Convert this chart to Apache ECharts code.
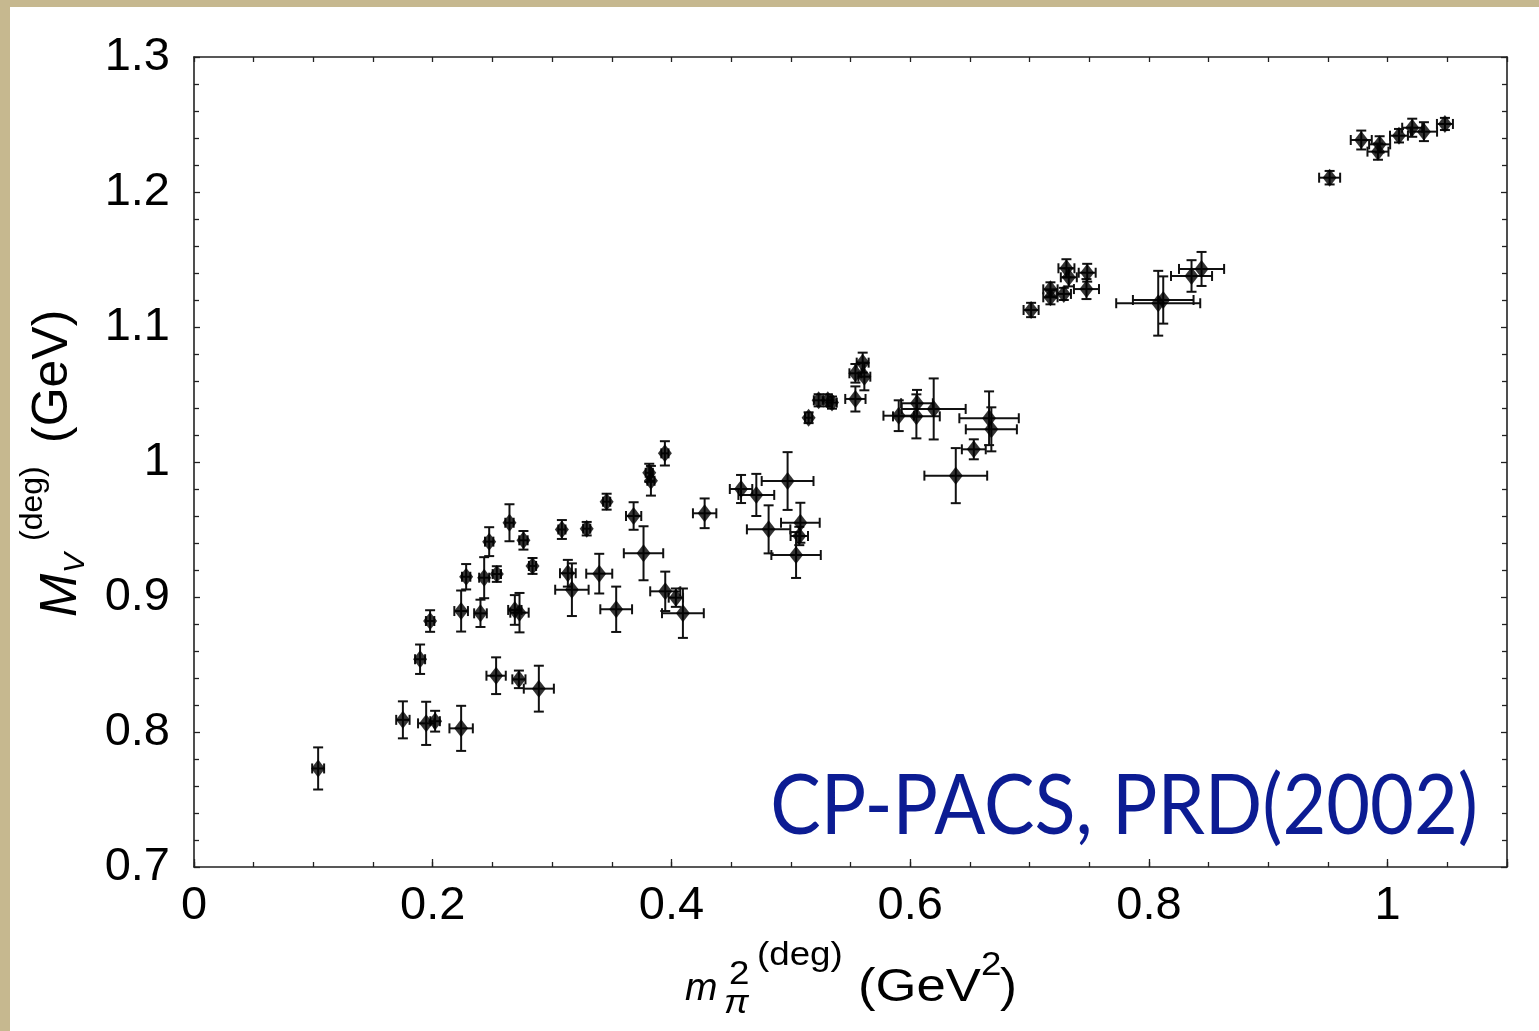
<!DOCTYPE html>
<html><head><meta charset="utf-8">
<script src="https://cdn.jsdelivr.net/npm/echarts@6/dist/echarts.min.js"></script>
<style>html,body{margin:0;padding:0;background:#c6b88f;}#c{width:1539px;height:1031px;}</style>
</head><body><div id="c"></div>
<script>
// m_pi^2 (GeV^2)
const mPi2 = [0.104,0.175,0.1945,0.202,0.2238,0.1894,0.1978,0.2238,0.228,0.24,
  0.2431,0.2473,0.2537,0.2643,0.276,0.2836,0.3082,0.329,0.2688,0.2727,
  0.2531,0.2722,0.2889,0.3132,0.3166,0.3395,0.3537,0.3766,0.3948,0.4037,
  0.4096,0.3457,0.3683,0.3814,0.3828,0.3945,0.4278,0.4583,0.4711,0.4973,
  0.4814,0.508,0.5071,0.5044,0.5149,0.5233,0.531,0.5345,0.5541,0.5541,
  0.5602,0.5616,0.5904,0.6057,0.6052,0.6197,0.6533,0.6382,0.6661,0.668,
  0.7013,0.7175,0.7175,0.7287,0.7309,0.7329,0.7483,0.7477,0.8078,0.812,
  0.8357,0.8441,0.9514,0.9779,0.9933,0.9919,1.0095,1.0206,1.0304,1.048];
// M_V (GeV)
const mV = [0.773,0.809,0.8064,0.808,0.8027,0.8539,0.8822,0.8896,0.915,0.8879,
  0.9143,0.941,0.917,0.955,0.942,0.923,0.950,0.9506,0.8904,0.8884,
  0.8417,0.839,0.8321,0.9176,0.9054,0.9173,0.8909,0.9324,0.9042,0.8995,
  0.888,0.9706,0.96,0.992,0.9861,1.0064,0.962,0.98,0.9756,0.9859,
  0.9501,0.955,0.9452,0.9311,1.0328,1.0457,1.0457,1.044,1.0467,1.0657,
  1.0736,1.0632,1.0343,1.0435,1.0338,1.0393,1.0094,0.9899,1.0324,1.0242,
  1.1126,1.1279,1.122,1.1245,1.1435,1.1368,1.1402,1.1281,1.1176,1.12,
  1.1378,1.143,1.2106,1.2385,1.2353,1.2299,1.2417,1.2476,1.2447,1.2504];
// horizontal error (GeV^2)
const errX = [0.005,0.0056,0.0068,0.004,0.0098,0.0042,0.0035,0.0057,0.0035,0.0053,
  0.0042,0.0035,0.0035,0.0035,0.0035,0.003,0.003,0.003,0.0056,0.0077,
  0.0081,0.0055,0.0126,0.0066,0.014,0.0109,0.0133,0.0165,0.0126,0.006,
  0.0175,0.003,0.0064,0.003,0.003,0.003,0.0098,0.0094,0.015,0.0217,
  0.0182,0.0162,0.0073,0.0207,0.003,0.004,0.004,0.004,0.0085,0.005,
  0.005,0.005,0.0128,0.0133,0.0196,0.0268,0.01,0.0263,0.0249,0.0214,
  0.0063,0.006,0.006,0.006,0.0067,0.0067,0.0071,0.0105,0.0352,0.0254,
  0.0172,0.0189,0.0088,0.0088,0.0088,0.0088,0.0075,0.0084,0.011,0.0067];
// vertical error (GeV)
const errY = [0.0156,0.0137,0.016,0.0077,0.0167,0.0109,0.008,0.0152,0.0094,0.0101,
  0.0152,0.0107,0.0058,0.0137,0.0069,0.0059,0.007,0.005,0.011,0.0146,
  0.0136,0.0065,0.017,0.0099,0.0195,0.0147,0.0168,0.02,0.0146,0.0068,
  0.0183,0.0059,0.0102,0.0067,0.011,0.009,0.011,0.0104,0.0156,0.0214,
  0.0178,0.0148,0.0068,0.017,0.004,0.0045,0.0045,0.0045,0.0093,0.0069,
  0.0074,0.0101,0.0114,0.0099,0.0163,0.0226,0.0074,0.0204,0.0199,0.0163,
  0.0053,0.0052,0.0052,0.0045,0.0067,0.0067,0.0066,0.0074,0.024,0.0175,
  0.0117,0.0126,0.005,0.007,0.006,0.006,0.005,0.0067,0.007,0.0045];
const xTickLabels = [0, 0.2, 0.4, 0.6, 0.8, 1];
const yTickLabels = [0.7, 0.8, 0.9, 1, 1.1, 1.2, 1.3];

const data = mPi2.map((x, i) => [x, mV[i], errX[i], errY[i]]);
const chart = echarts.init(document.getElementById('c'));
const lineCol = '#222';
const labelFont = {fontFamily: 'Liberation Sans', fontSize: 47, color: '#000'};

function renderErr(params, api) {
  const x = api.value(0), y = api.value(1), ex = api.value(2), ey = api.value(3);
  const t = api.coord([x, y + ey]), b = api.coord([x, y - ey]);
  const l = api.coord([x - ex, y]), r = api.coord([x + ex, y]);
  const c = 5;
  const st = {stroke: '#111', lineWidth: 2};
  const ln = (x1, y1, x2, y2) => ({type: 'line', shape: {x1, y1, x2, y2}, style: st});
  return {type: 'group', children: [
    ln(t[0], t[1], b[0], b[1]), ln(t[0] - c, t[1], t[0] + c, t[1]), ln(b[0] - c, b[1], b[0] + c, b[1]),
    ln(l[0], l[1], r[0], r[1]), ln(l[0], l[1] - c, l[0], l[1] + c), ln(r[0], r[1] - c, r[0], r[1] + c)
  ]};
}

function txt(x, y, text, size, opts) {
  opts = opts || {};
  return {type: 'text', x, y, scaleX: opts.sx || 1, z: 100,
    style: {x: 0, y: 0, text, fontFamily: opts.family || 'Liberation Sans', fontSize: size,
      fontStyle: opts.italic ? 'italic' : 'normal', fill: opts.fill || '#000',
      textAlign: opts.align || 'left', textVerticalAlign: 'middle'}};
}

const baseX = {type: 'value', min: 0, max: 1.1, splitLine: {show: false}};
const baseY = {type: 'value', min: 0.7, max: 1.3, interval: 0.1, splitLine: {show: false}};

chart.setOption({
  backgroundColor: '#c6b88f',
  animation: false,
  grid: {left: 194, top: 57, right: 32, bottom: 164, show: false},
  xAxis: [
    Object.assign({}, baseX, {position: 'bottom', interval: 0.05,
      axisLine: {show: true, onZero: false, lineStyle: {color: lineCol, width: 1.6}},
      axisTick: {inside: true, length: 5, lineStyle: {color: lineCol, width: 1.3}},
      axisLabel: Object.assign({margin: 16, formatter: v => {
        const hit = xTickLabels.find(t => Math.abs(t - v) < 1e-6);
        return hit === undefined ? '' : String(hit);
      }}, labelFont)}),
    Object.assign({}, baseX, {position: 'bottom', interval: 0.2,
      axisLine: {show: false}, axisTick: {inside: true, length: 8, lineStyle: {color: lineCol, width: 1.3}},
      axisLabel: {show: false}}),
    Object.assign({}, baseX, {position: 'top', interval: 0.05,
      axisLine: {show: true, onZero: false, lineStyle: {color: lineCol, width: 1.6}},
      axisTick: {inside: true, length: 5, lineStyle: {color: lineCol, width: 1.3}},
      axisLabel: {show: false}})
  ],
  yAxis: [
    Object.assign({}, baseY, {position: 'left',
      axisLine: {show: true, onZero: false, lineStyle: {color: lineCol, width: 1.6}},
      axisTick: {inside: true, length: 6, lineStyle: {color: lineCol, width: 1.3}},
      minorTick: {show: true, splitNumber: 5, length: 5, lineStyle: {color: lineCol, width: 1.3}},
      axisLabel: Object.assign({margin: 24, formatter: v => {
        const hit = yTickLabels.find(t => Math.abs(t - v) < 1e-6);
        return hit === undefined ? '' : String(hit);
      }}, labelFont)}),
    Object.assign({}, baseY, {position: 'right',
      axisLine: {show: true, onZero: false, lineStyle: {color: lineCol, width: 1.6}},
      axisTick: {inside: true, length: 6, lineStyle: {color: lineCol, width: 1.3}},
      minorTick: {show: true, splitNumber: 5, length: 5, lineStyle: {color: lineCol, width: 1.3}},
      axisLabel: {show: false}})
  ],
  graphic: [
    {type: 'rect', left: 10, top: 7, shape: {width: 1529, height: 1024}, style: {fill: '#fff'}, z: -100, silent: true},
    // x axis title
    txt(685, 989, 'm', 39, {italic: true}),
    txt(729, 975, '2', 34, {sx: 1.08}),
    txt(724, 1004, 'π', 34, {italic: true, sx: 1.08}),
    txt(757, 956, '(deg)', 34, {sx: 1.08}),
    txt(858, 988, '(GeV', 47, {sx: 1.12}),
    txt(981, 966, '2', 34, {sx: 1.08}),
    txt(1000, 988, ')', 47, {sx: 1.08}),
    // y axis title (rotated)
    {type: 'group', x: 80, y: 617, rotation: Math.PI / 2, children: [
      txt(0, -18, 'M', 52, {italic: true}),
      txt(44, -4, 'V', 30, {italic: true}),
      txt(76, -47, '(deg)', 32),
      txt(174, -27, '(GeV)', 50)
    ]},
    // annotation
    txt(1478, 807, 'CP-PACS, PRD(2002)', 84, {family: 'Lato', fill: '#0c1c93', align: 'right', sx: 0.9})
  ],
  series: [
    {type: 'custom', xAxisIndex: 0, yAxisIndex: 0, renderItem: renderErr, data: data,
      encode: {x: 0, y: 1}, z: 3, silent: true},
    {type: 'scatter', xAxisIndex: 0, yAxisIndex: 0, symbol: 'diamond', symbolSize: [14, 18],
      itemStyle: {color: '#000'}, data: data.map(d => [d[0], d[1]]), z: 4, silent: true}
  ]
});
</script></body></html>
